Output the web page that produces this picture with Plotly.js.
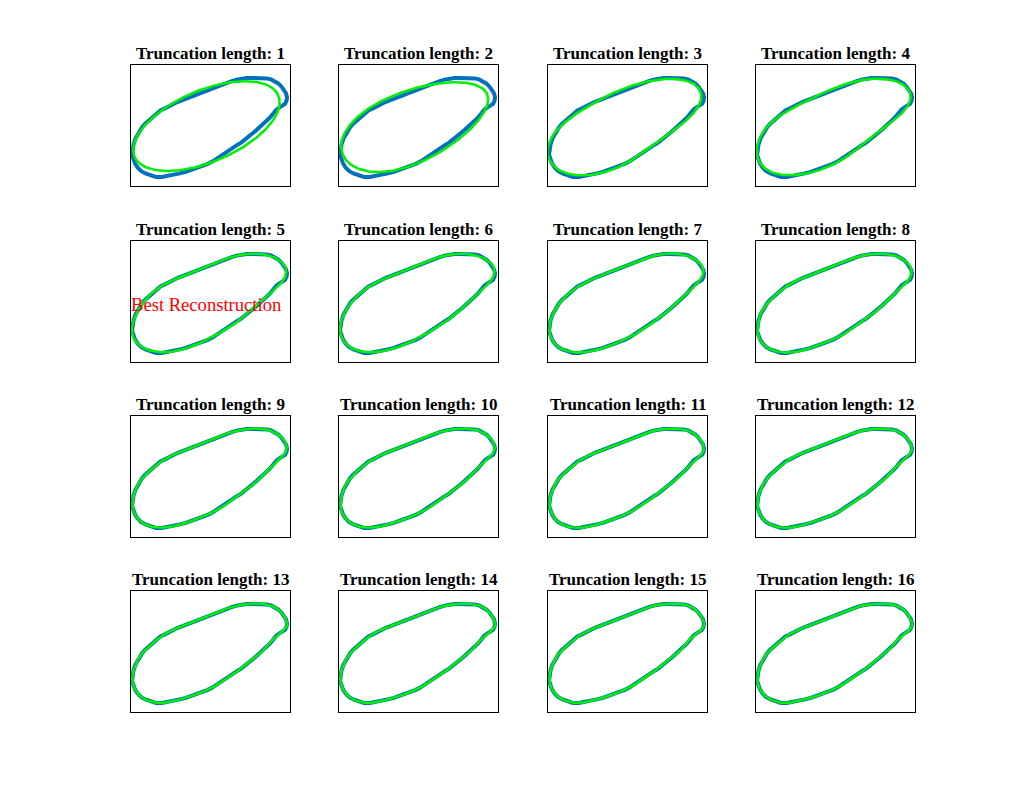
<!DOCTYPE html>
<html>
<head>
<meta charset="utf-8">
<script src="https://cdn.plot.ly/plotly-3.0.1.min.js"></script>
<style>html,body{margin:0;padding:0;background:#fff;}#chart{width:1010px;height:800px;}</style>
</head>
<body>
<div id="chart"></div>
<script>
// Original boundary contour (box-relative units, y downward)
const contourX = [0.5, 1.5, 3.5, 6.5, 10, 13, 16, 19.5, 22, 24.5, 26, 28.5, 32, 36, 38.5, 42, 46, 50, 55, 60,
  65, 70, 75, 79, 82, 86, 90, 95, 100, 105, 110, 115, 120, 125, 130, 135, 139.5, 143.5, 147, 150,
  152.5, 154.5, 155.5, 155, 153.5, 151, 148, 145, 142.5, 140.5, 138, 135, 131.5, 128.5, 125.5, 122, 119, 116, 113, 109.5,
  106, 103, 100.5, 97.5, 94, 90, 85.5, 81, 76, 71, 66, 60, 54, 48, 42, 36, 30, 24, 18.5, 13.5,
  9, 5.5, 3, 1, 0];
const contourY = [86, 79, 73, 67, 62, 58.5, 56, 53, 51.5, 48.5, 47.5, 45, 43.5, 41.5, 39.5, 38.5, 36.5, 35, 33, 31.5,
  29.5, 27.5, 25.5, 23.5, 22.5, 21, 19.5, 17.5, 16, 14.5, 13.5, 13, 12.8, 12.7, 12.8, 13.3, 14.3, 16, 18.5, 21.5,
  25, 28, 32, 35.5, 38.5, 40.5, 42, 44, 46.5, 49.5, 52.5, 55.5, 59, 62, 64, 67, 69.5, 72, 74.5, 77,
  79, 81, 83.5, 85.5, 88, 90.5, 93, 95.5, 98, 100, 102, 104, 106, 107.5, 109, 110.5, 111, 111, 109.5, 107.5,
  105, 101.5, 97.5, 92, 89];
const truncationLengths = [1, 2, 3, 4, 5, 6, 7, 8, 9, 10, 11, 12, 13, 14, 15, 16];
const titlePrefix = 'Truncation length: ';
const bestLength = 5;
const bestLabel = 'Best Reconstruction';
// vertical scale of the original image relative to the plotted box (axes not equal)
const dataAspect = 2;

// resample closed polygon by arc length measured in original image units
function resample(xs, ys, n, sy) {
  const px = xs.concat([xs[0]]), py = ys.concat([ys[0]]);
  const cum = [0];
  for (let i = 1; i < px.length; i++) cum.push(cum[i-1] + Math.hypot(px[i]-px[i-1], sy*(py[i]-py[i-1])));
  const total = cum[cum.length-1];
  const ox = [], oy = [];
  let seg = 1;
  for (let j = 0; j < n; j++) {
    const s = total * j / n;
    while (cum[seg] < s) seg++;
    const t = (s - cum[seg-1]) / (cum[seg] - cum[seg-1] || 1);
    ox.push(px[seg-1] + t*(px[seg]-px[seg-1]));
    oy.push(py[seg-1] + t*(py[seg]-py[seg-1]));
  }
  return [ox, oy];
}
// Fourier descriptor truncation: keep harmonics -K..K
function truncate(xs, ys, K) {
  const N = xs.length;
  const coefs = [];
  for (let k = -K; k <= K; k++) {
    let re = 0, im = 0;
    for (let j = 0; j < N; j++) {
      const a = -2*Math.PI*k*j/N, c = Math.cos(a), s = Math.sin(a);
      re += xs[j]*c - ys[j]*s; im += xs[j]*s + ys[j]*c;
    }
    coefs.push([k, re/N, im/N]);
  }
  const rx = [], ry = [];
  for (let j = 0; j <= N; j++) {
    let re = 0, im = 0;
    for (const [k, cr, ci] of coefs) {
      const a = 2*Math.PI*k*j/N, c = Math.cos(a), s = Math.sin(a);
      re += cr*c - ci*s; im += cr*s + ci*c;
    }
    rx.push(re); ry.push(im);
  }
  return [rx, ry];
}

const [sx, sy] = resample(contourX, contourY, 256, dataAspect);
const blueX = contourX.concat([contourX[0]]);
const blueY = contourY.concat([contourY[0]]);

const colLeft = [131, 339, 548, 756], boxW = 159;
const rowTop = [65, 241, 416, 591], boxH = 121;
const W = 1010, H = 800;
const serif = 'Liberation Serif, Times New Roman, serif';

const data = [];
const layout = {
  width: W, height: H, margin: {l: 0, r: 0, t: 0, b: 0},
  paper_bgcolor: '#fff', plot_bgcolor: '#fff', showlegend: false,
  annotations: []
};
truncationLengths.forEach((n, i) => {
  const r = Math.floor(i / 4), c = i % 4;
  const id = i === 0 ? '' : String(i+1);
  layout['xaxis' + id] = {
    domain: [colLeft[c]/W, (colLeft[c]+boxW)/W],
    anchor: 'y' + id, range: [-1, 158.5],
    showline: true, mirror: true, linecolor: '#000', linewidth: 1,
    showgrid: false, zeroline: false, showticklabels: false, ticks: ''
  };
  layout['yaxis' + id] = {
    domain: [1 - (rowTop[r]+boxH)/H, 1 - rowTop[r]/H],
    anchor: 'x' + id, range: [120, 0],
    showline: true, mirror: true, linecolor: '#000', linewidth: 1,
    showgrid: false, zeroline: false, showticklabels: false, ticks: ''
  };
  data.push({x: blueX, y: blueY, xaxis: 'x'+id, yaxis: 'y'+id, mode: 'lines',
    line: {color: '#0072BD', width: 4}, hoverinfo: 'skip'});
  const [gx, gy] = truncate(sx, sy, n);
  data.push({x: gx, y: gy, xaxis: 'x'+id, yaxis: 'y'+id, mode: 'lines',
    line: {color: '#00F000', width: 2.5}, hoverinfo: 'skip'});
  layout.annotations.push({
    text: '<b>' + titlePrefix + n + '</b>', xref: 'paper', yref: 'paper',
    x: (colLeft[c] + boxW/2)/W, y: 1 - (rowTop[r] - 12)/H,
    xanchor: 'center', yanchor: 'middle', showarrow: false,
    font: {family: serif, size: 17, color: '#000'}
  });
  if (n === bestLength) {
    layout.annotations.push({
      text: bestLabel, xref: 'x'+id, yref: 'y'+id, x: -1, y: 63, xshift: -2,
      xanchor: 'left', yanchor: 'middle', showarrow: false,
      font: {family: serif, size: 18.6, color: '#FF0000'}
    });
  }
});

Plotly.newPlot('chart', data, layout, {displayModeBar: false, staticPlot: true});
</script>
</body>
</html>
